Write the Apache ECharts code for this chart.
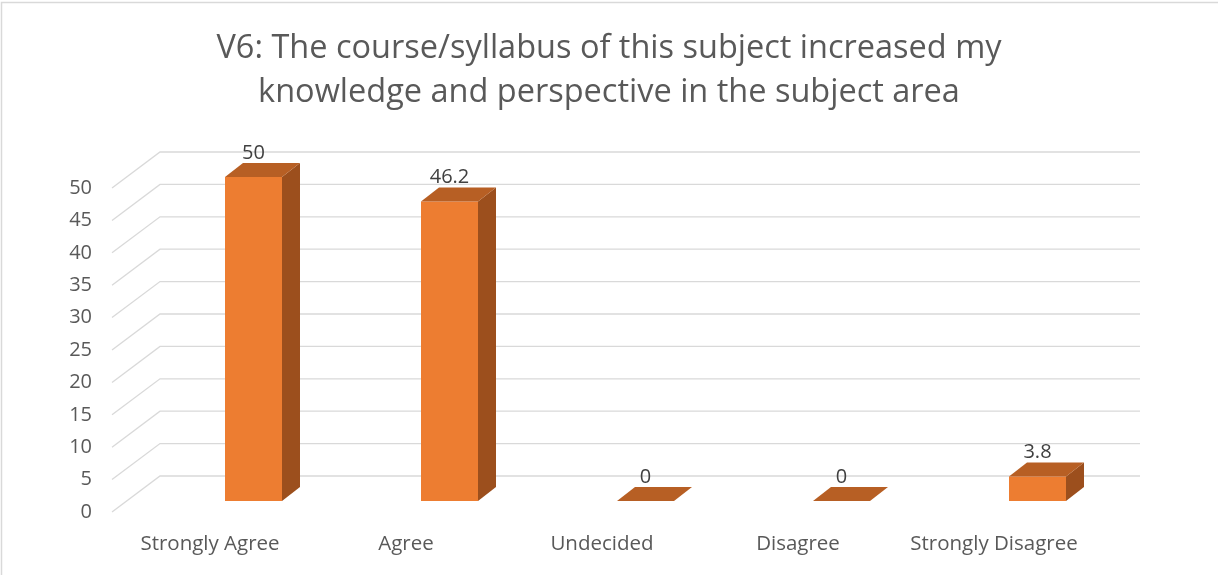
<!DOCTYPE html>
<html>
<head>
<meta charset="utf-8">
<title>V6 chart</title>
<script src="https://cdn.jsdelivr.net/npm/echarts@6/dist/echarts.min.js"></script>
<style>
  html, body { margin: 0; padding: 0; background: #fff; }
  #main { width: 1218px; height: 575px; }
</style>
</head>
<body>
<div id="main"></div>
<script>
// 数据
const categories = ['Strongly Agree', 'Agree', 'Undecided', 'Disagree', 'Strongly Disagree'];
const percentages = [50, 46.2, 0, 0, 3.8];
const yTicks = [0, 5, 10, 15, 20, 25, 30, 35, 40, 45, 50];

const FONT = '"Open Sans", "DejaVu Sans", sans-serif';
// 3D 偏移
const DEPTH_X = 48, DEPTH_Y = 36;
const BAR_SHIFT = 15, BAR_LIFT = 11, BAR_W = 57, SIDE_X = 18, SIDE_Y = 14;

const chart = echarts.init(document.getElementById('main'));

const option = {
  backgroundColor: '#fff',
  animation: false,
  title: {
    text: 'V6: The course/syllabus of this subject increased my\nknowledge and perspective in the subject area',
    left: 'center',
    top: 22,
    textStyle: {
      fontFamily: FONT,
      fontWeight: 'normal',
      fontSize: 32.5,
      lineHeight: 44,
      color: '#595959'
    }
  },
  graphic: [
    {
      type: 'rect',
      shape: { x: 1.5, y: 2.5, width: 1300, height: 700 },
      style: { fill: 'none', stroke: '#D9D9D9', lineWidth: 1.5 },
      silent: true
    }
  ],
  grid: {
    left: 112,
    right: 126,
    top: 188,
    bottom: 63
  },
  xAxis: {
    type: 'category',
    data: categories,
    axisLine: { show: false },
    axisTick: { show: false },
    axisLabel: {
      interval: 0,
      margin: 22,
      fontFamily: FONT,
      fontSize: 20.5,
      color: '#595959'
    }
  },
  yAxis: {
    type: 'value',
    min: 0,
    max: 50,
    interval: 5,
    axisLine: { show: false },
    axisTick: { show: false },
    splitLine: { show: false },
    axisLabel: {
      margin: 20,
      fontFamily: FONT,
      fontSize: 20,
      color: '#595959'
    }
  },
  series: [
    {
      // 背景网格线（前沿斜线 + 后墙横线）
      type: 'custom',
      silent: true,
      z: 1,
      data: yTicks.map(v => [0, v]),
      renderItem: function (params, api) {
        const cs = params.coordSys;
        const y = api.coord([0, api.value(1)])[1];
        return {
          type: 'polyline',
          shape: {
            points: [
              [cs.x, y],
              [cs.x + DEPTH_X, y - DEPTH_Y],
              [cs.x + cs.width + DEPTH_X, y - DEPTH_Y]
            ]
          },
          style: { stroke: '#D9D9D9', lineWidth: 1.3, fill: 'none' }
        };
      }
    },
    {
      // 3D 柱子
      type: 'custom',
      z: 2,
      data: percentages.map((v, i) => [i, v]),
      renderItem: function (params, api) {
        const i = api.value(0);
        const val = api.value(1);
        const base = api.coord([i, 0]);
        const top = api.coord([i, val]);
        const x0 = base[0] + BAR_SHIFT;
        const x1 = x0 + BAR_W;
        const yb = base[1] - BAR_LIFT;
        const yt = top[1] - BAR_LIFT;
        return {
          type: 'group',
          children: [
            {
              type: 'rect',
              shape: { x: x0, y: yt, width: BAR_W, height: yb - yt },
              style: { fill: '#ED7D31' }
            },
            {
              type: 'polygon',
              shape: { points: [[x1, yt], [x1 + SIDE_X, yt - SIDE_Y], [x1 + SIDE_X, yb - SIDE_Y], [x1, yb]] },
              style: { fill: '#9C4F1D' }
            },
            {
              type: 'polygon',
              shape: { points: [[x0, yt], [x1, yt], [x1 + SIDE_X, yt - SIDE_Y], [x0 + SIDE_X, yt - SIDE_Y]] },
              style: { fill: '#B75F24' }
            },
            {
              type: 'text',
              style: {
                text: String(val),
                x: x0 + BAR_W / 2,
                y: yt - SIDE_Y - 10,
                align: 'center',
                verticalAlign: 'middle',
                font: '20px ' + FONT,
                fill: '#404040'
              }
            }
          ]
        };
      }
    }
  ]
};

chart.setOption(option);
</script>
</body>
</html>
